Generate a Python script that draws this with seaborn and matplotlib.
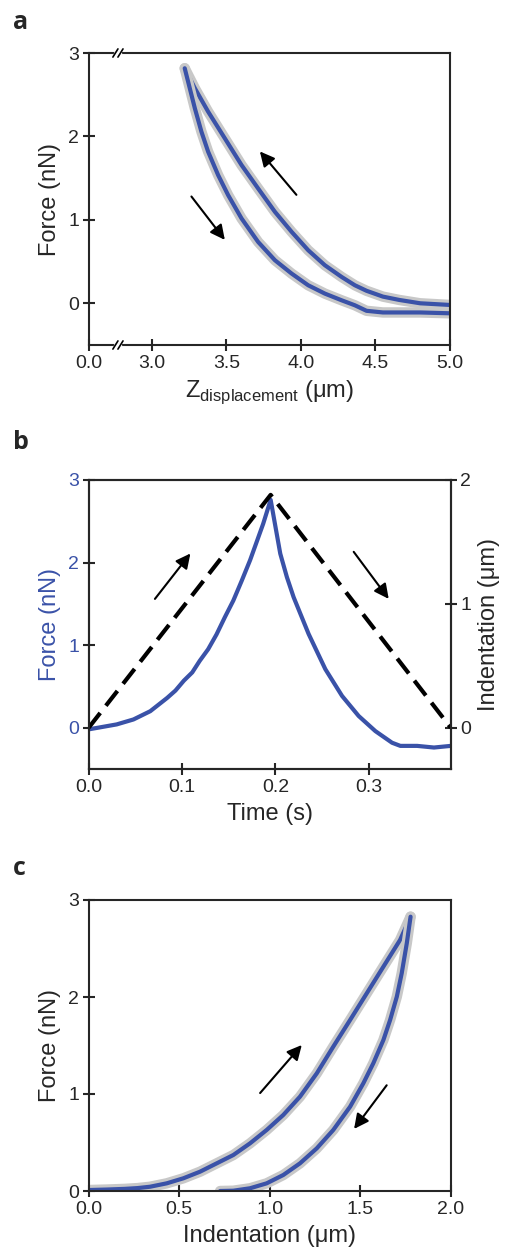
import numpy as np
import pandas as pd
import seaborn as sns
import matplotlib
matplotlib.use('Agg')
import matplotlib.pyplot as plt

# ---- data ----
# panel a: force vs Z displacement (two branches)
a_up_z = [3.221, 3.289, 3.378, 3.490, 3.602, 3.713, 3.826, 3.938, 4.049, 4.161, 4.273,
          4.362, 4.44, 4.55, 4.66, 4.8, 5.0]
a_up_f = [2.817, 2.577, 2.297, 1.977, 1.657, 1.377, 1.096, 0.856, 0.636, 0.456, 0.316,
          0.216, 0.15, 0.08, 0.04, 0.0, -0.02]
a_down_z = [3.221, 3.255, 3.289, 3.333, 3.378, 3.445, 3.512, 3.602, 3.713, 3.826, 3.938,
            4.049, 4.161, 4.273, 4.362, 4.44, 4.55, 4.66, 4.8, 5.0]
a_down_f = [2.817, 2.577, 2.337, 2.057, 1.817, 1.537, 1.297, 1.017, 0.736, 0.516, 0.356,
            0.216, 0.116, 0.036, -0.024, -0.09, -0.11, -0.11, -0.11, -0.12]

# panel b: force and indentation vs time
b_time = [0.0, 0.03, 0.048, 0.066, 0.084, 0.093, 0.102, 0.111, 0.119, 0.128, 0.137, 0.146,
          0.155, 0.164, 0.173, 0.187, 0.195,
          0.2053, 0.2124, 0.2196, 0.2357, 0.2536, 0.2715, 0.2893, 0.3072, 0.3251,
          0.334, 0.352, 0.37, 0.388]
b_force = [-0.02, 0.04, 0.10, 0.20, 0.36, 0.45, 0.57, 0.67, 0.81, 0.95, 1.13, 1.34,
           1.54, 1.78, 2.03, 2.47, 2.76,
           2.108, 1.824, 1.581, 1.135, 0.709, 0.385, 0.142, -0.041, -0.182,
           -0.22, -0.22, -0.24, -0.22]
b_ind_time = [0.0, 0.195, 0.388]
b_ind = [0.0, 1.88, 0.0]

# panel c: force vs indentation
c_load_x = [0.0, 0.1, 0.2, 0.27, 0.339, 0.431, 0.523, 0.615, 0.707, 0.799, 0.891, 0.983,
            1.075, 1.167, 1.260, 1.351, 1.444, 1.536, 1.628, 1.720, 1.778]
c_load_f = [0.01, 0.015, 0.022, 0.03, 0.044, 0.079, 0.131, 0.199, 0.285, 0.371, 0.491, 0.629,
            0.784, 0.972, 1.213, 1.488, 1.763, 2.038, 2.313, 2.588, 2.828]
c_unload_x = [1.778, 1.757, 1.729, 1.702, 1.665, 1.628, 1.572, 1.517, 1.444, 1.351, 1.260,
              1.167, 1.075, 0.983, 0.891, 0.799, 0.726]
c_unload_f = [2.828, 2.553, 2.244, 2.003, 1.763, 1.557, 1.316, 1.110, 0.869, 0.629, 0.440,
              0.285, 0.165, 0.079, 0.028, 0.003, 0.0]

blue = '#3a52a8'
gray = '#c8c8c8'

sns.set_style('ticks')
plt.rcParams['font.family'] = ['Liberation Sans', 'DejaVu Sans']
plt.rcParams['axes.linewidth'] = 1.5

fig = plt.figure(figsize=(5.05, 12.5), dpi=100)
ax_a = fig.add_axes([0.1756, 0.724, 0.7155, 0.2336])
ax_b = fig.add_axes([0.1756, 0.3848, 0.717, 0.2312])
ax_c = fig.add_axes([0.1756, 0.0472, 0.717, 0.2328])


def trace(ax, x, y):
    d = pd.DataFrame({'x': x, 'y': y})
    sns.lineplot(data=d, x='x', y='y', ax=ax, sort=False, estimator=None,
                 color=gray, lw=7.5, solid_capstyle='round', solid_joinstyle='round')
    sns.lineplot(data=d, x='x', y='y', ax=ax, sort=False, estimator=None,
                 color=blue, lw=3, solid_joinstyle='round')


def arrow(ax, start, end):
    ax.annotate('', xy=end, xytext=start,
                arrowprops=dict(arrowstyle='-|>', color='black', lw=1.5,
                                mutation_scale=22, shrinkA=0, shrinkB=0))


def style(ax):
    ax.tick_params(direction='inout', length=8, width=1.5, labelsize=14, pad=3)
    for s in ax.spines.values():
        s.set_visible(True)
        s.set_linewidth(1.5)
    ax.set_xlabel(ax.get_xlabel(), fontsize=17, labelpad=5)
    ax.set_ylabel(ax.get_ylabel(), fontsize=17, labelpad=5)


# ---- panel a ----
trace(ax_a, a_up_z, a_up_f)
trace(ax_a, a_down_z, a_down_f)
arrow(ax_a, (3.266, 1.28), (3.49, 0.76))
arrow(ax_a, (3.97, 1.30), (3.725, 1.82))
x0 = 2.577
ax_a.set_xlim(x0, 5.0)
ax_a.set_ylim(-0.5, 3)
ax_a.set_xticks([x0, 3.0, 3.5, 4.0, 4.5, 5.0])
ax_a.set_xticklabels(['0.0', '3.0', '3.5', '4.0', '4.5', '5.0'])
ax_a.set_yticks([0, 1, 2, 3])
ax_a.set_xlabel('Z$_\\mathregular{displacement}$ (μm)')
ax_a.set_ylabel('Force (nN)')
style(ax_a)
# axis break marks on top and bottom spines
for yb in (0, 1):
    ax_a.plot([0.074, 0.088], [yb, yb], transform=ax_a.transAxes, color='white',
              lw=2.5, clip_on=False, zorder=4)
    for dx in (-0.007, 0.007):
        ax_a.plot([0.081 + dx - 0.007, 0.081 + dx + 0.007], [yb - 0.014, yb + 0.014],
                  transform=ax_a.transAxes, color='black', lw=1.2, clip_on=False, zorder=5)

# ---- panel b ----
sns.lineplot(x=b_time, y=b_force, ax=ax_b, sort=False, estimator=None, color=blue, lw=3)
ax_b2 = ax_b.twinx()
sns.lineplot(x=b_ind_time, y=b_ind, ax=ax_b2, sort=False, estimator=None,
             color='black', lw=3, dashes=False)
ax_b2.lines[0].set_dashes([4.5, 2.2])
arrow(ax_b, (0.071, 1.56), (0.109, 2.11))
arrow(ax_b, (0.284, 2.13), (0.3215, 1.56))
ax_b.set_xlim(0, 0.388)
ax_b.set_ylim(-0.5, 3)
ax_b2.set_ylim(-1 / 3, 2)
ax_b.set_xticks([0.0, 0.1, 0.2, 0.3])
ax_b.set_yticks([0, 1, 2, 3])
ax_b2.set_yticks([0, 1, 2])
ax_b.set_xlabel('Time (s)')
ax_b.set_ylabel('Force (nN)', color=blue)
ax_b2.set_ylabel('Indentation (μm)')
style(ax_b)
style(ax_b2)
ax_b.tick_params(axis='y', labelcolor=blue)
ax_b.tick_params(right=False)

# ---- panel c ----
trace(ax_c, c_load_x, c_load_f)
trace(ax_c, c_unload_x, c_unload_f)
arrow(ax_c, (0.947, 1.01), (1.177, 1.505))
arrow(ax_c, (1.646, 1.09), (1.466, 0.64))
ax_c.set_xlim(0, 2)
ax_c.set_ylim(0, 3)
ax_c.set_xticks([0.0, 0.5, 1.0, 1.5, 2.0])
ax_c.set_yticks([0, 1, 2, 3])
ax_c.set_xlabel('Indentation (μm)')
ax_c.set_ylabel('Force (nN)')
style(ax_c)

# panel letters
for lab, yy in (('a', 0.982), ('b', 0.646), ('c', 0.305)):
    fig.text(0.025, yy, lab, fontsize=18, fontweight='bold', family='Open Sans', va='center')

fig.savefig('out.png', dpi=100)
